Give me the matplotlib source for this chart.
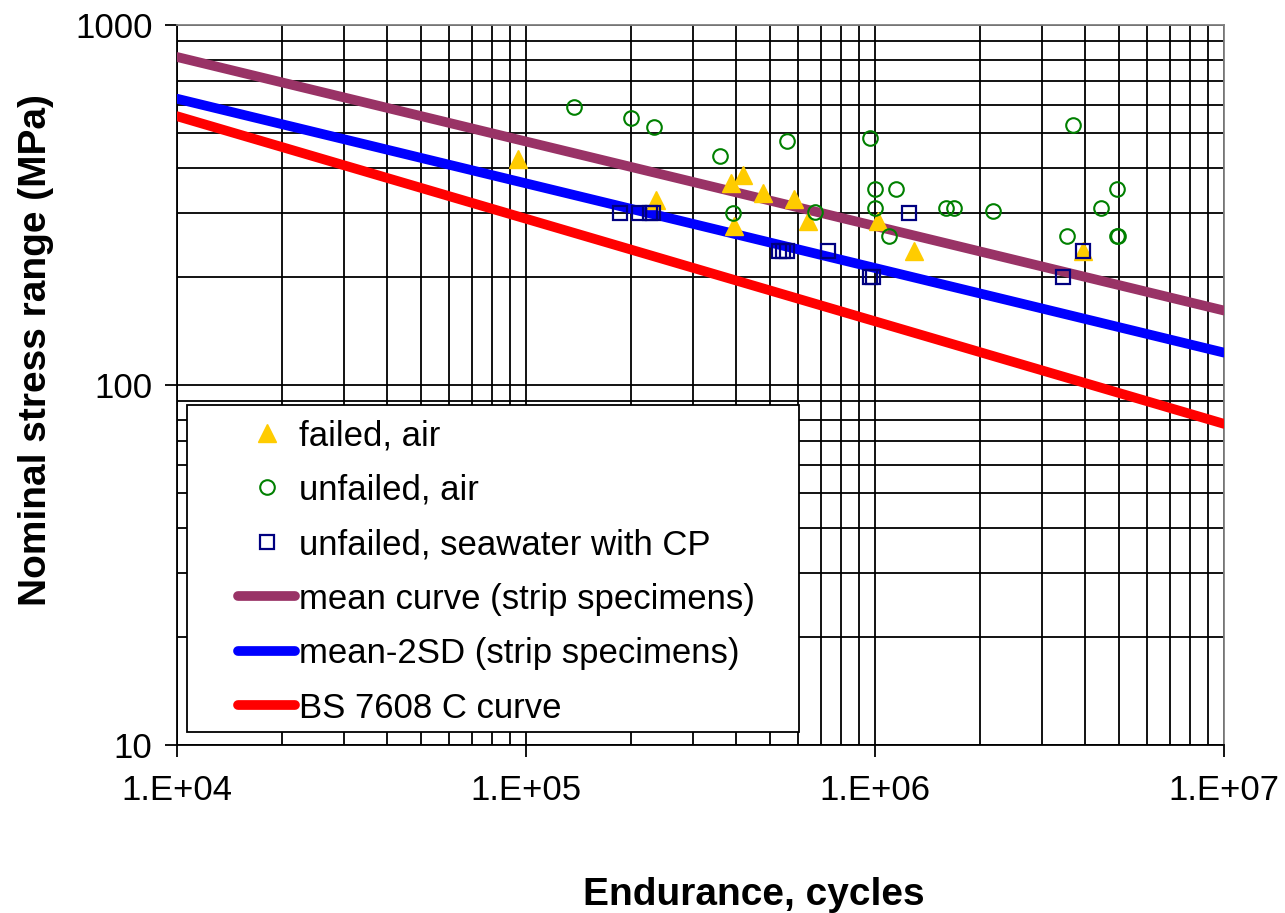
import matplotlib
matplotlib.use("Agg")
import matplotlib.pyplot as plt
from matplotlib.patches import Rectangle
from matplotlib.ticker import FixedLocator, FixedFormatter, NullFormatter

# --- data ---
failed_n = [9.5e4, 2.36e5, 3.86e5, 4.19e5, 4.77e5, 5.86e5, 3.94e5, 6.44e5, 1.02e6, 1.29e6, 3.95e6]
failed_s = [425, 327, 364, 384, 341, 329, 277, 286, 285, 236, 236]

unfailed_n = [1.375e5, 2.0e5, 2.33e5, 3.6e5, 5.61e5, 9.68e5, 3.93e5, 6.73e5, 1.0e6, 1.15e6,
              1.0e6, 1.10e6, 1.6e6, 1.68e6, 2.18e6, 3.70e6, 4.95e6, 4.43e6, 3.56e6, 4.93e6, 4.97e6]
unfailed_s = [591, 553, 522, 434, 477, 485, 300, 303, 350, 350,
              311, 260, 310, 310, 305, 528, 350, 310, 260, 260, 260]

sea_n = [1.86e5, 2.11e5, 2.27e5, 2.31e5, 5.31e5, 5.45e5, 5.58e5, 7.35e5, 9.7e5, 9.9e5,
         1.25e6, 3.46e6, 3.94e6]
sea_s = [300, 300, 300, 300, 235, 235, 235, 235, 200, 200, 300, 200, 235]

curve_n = [1e4, 1e7]
mean_s = [815, 161]
mean2sd_s = [624, 123]
bs7608_s = [558, 78]

xticks = [1e4, 1e5, 1e6, 1e7]
xtick_labels = ["1.E+04", "1.E+05", "1.E+06", "1.E+07"]
yticks = [10, 100, 1000]
ytick_labels = ["10", "100", "1000"]

plt.rcParams['font.family'] = ['Liberation Sans', 'DejaVu Sans']

fig = plt.figure(figsize=(12.85, 9.13), dpi=100)
ax = fig.add_axes([177 / 1285, 1 - 745 / 913, 1047 / 1285, 720 / 913])

ax.set_xscale('log')
ax.set_yscale('log')
ax.set_xlim(1e4, 1e7)
ax.set_ylim(10, 1000)

# grid: major + minor, black
ax.grid(True, which='both', color='black', lw=1.3, zorder=0)
ax.set_axisbelow(True)

# curves
ax.plot(curve_n, mean_s, color='#993366', lw=7, solid_capstyle='round', zorder=3,
        label='mean curve (strip specimens)')
ax.plot(curve_n, mean2sd_s, color='#0000FF', lw=7, solid_capstyle='round', zorder=3,
        label='mean-2SD (strip specimens)')
ax.plot(curve_n, bs7608_s, color='#FF0000', lw=7, solid_capstyle='round', zorder=3,
        label='BS 7608 C curve')

# points
ax.plot(failed_n, failed_s, ls='none', marker='^', ms=12.5, color='#FFCC00', mec='#FFCC00',
        zorder=4, label='failed, air')
ax.plot(unfailed_n, unfailed_s, ls='none', marker='o', ms=10.5, mfc='none', mec='#008000',
        mew=1.5, zorder=5, label='unfailed, air')
ax.plot(sea_n, sea_s, ls='none', marker='s', ms=10, mfc='none', mec='#000080',
        mew=1.6, zorder=6, label='unfailed, seawater with CP')

# ticks
ax.xaxis.set_major_locator(FixedLocator(xticks))
ax.xaxis.set_major_formatter(FixedFormatter(xtick_labels))
ax.xaxis.set_minor_formatter(NullFormatter())
ax.yaxis.set_major_locator(FixedLocator(yticks))
ax.yaxis.set_major_formatter(FixedFormatter(ytick_labels))
ax.yaxis.set_minor_formatter(NullFormatter())
ax.tick_params(which='major', direction='out', length=8.6, width=1.3, labelsize=25)
ax.tick_params(axis='x', which='major', pad=12)
ax.tick_params(axis='y', which='major', pad=9)
ax.tick_params(which='minor', length=0)

for side in ['left', 'bottom']:
    ax.spines[side].set_color('black')
    ax.spines[side].set_linewidth(1.3)
for side in ['top', 'right']:
    ax.spines[side].set_color('#808080')
    ax.spines[side].set_linewidth(1.3)

ax.set_xlabel('Endurance, cycles', fontsize=28, fontweight='bold', va='center')
ax.set_ylabel('Nominal stress range (MPa)', fontsize=28, fontweight='bold', va='center')
ax.xaxis.set_label_coords(0.551, -0.2083)
ax.yaxis.set_label_coords(-0.1347, 0.549)

# legend box
box = Rectangle((10 / 1047, 13 / 720), 612 / 1047, 327 / 720, transform=ax.transAxes,
                facecolor='white', edgecolor='black', lw=1.3, zorder=7)
ax.add_patch(box)

h, l = ax.get_legend_handles_labels()
order = [3, 4, 5, 0, 1, 2]
leg = ax.legend([h[i] for i in order], [l[i] for i in order], loc='upper left',
                bbox_to_anchor=(61 / 1047, 326 / 720), borderaxespad=0, borderpad=0,
                frameon=False, fontsize=25, handlelength=1.65, handletextpad=0.12,
                labelspacing=0.62)
leg.set_zorder(8)

plt.savefig('out.png', dpi=100)
